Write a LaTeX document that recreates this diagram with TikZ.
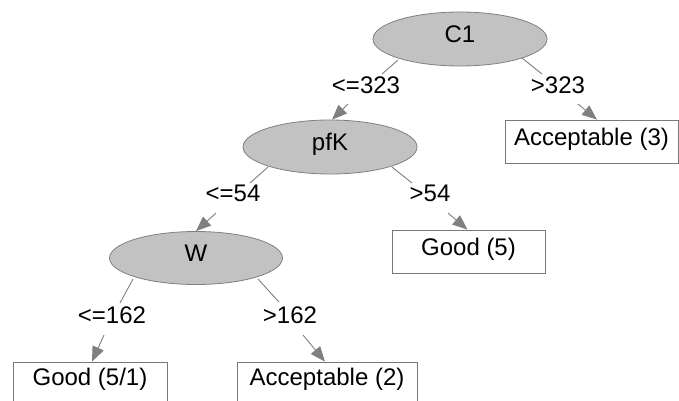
\documentclass[tikz,border=0pt]{standalone}
\usepackage{fontspec}
\setmainfont{Liberation Sans}
\usetikzlibrary{shapes.geometric,arrows.meta}
\definecolor{nodefill}{RGB}{194,194,194}
\definecolor{linegray}{RGB}{128,128,128}
\definecolor{boxgray}{RGB}{120,120,120}
\tikzset{
  txt/.style={font=\fontsize{24}{28}\selectfont, text height=0.72em, text depth=0pt, inner sep=0pt},
  split/.style={txt, ellipse, draw=linegray, fill=nodefill, line width=0.8pt},
  leaf/.style={txt, rectangle, draw=boxgray, line width=0.8pt, fill=white},
  edgelabel/.style={txt},
  edge/.style={draw=linegray, line width=0.9pt},
  arr/.style={draw=linegray, line width=0.9pt, -{Triangle[length=15pt,width=12pt,fill=linegray]}},
}
\begin{document}
\begin{tikzpicture}[x=1pt,y=-1pt]
\useasboundingbox (0,0) rectangle (679,400);
% split nodes
\node[split, minimum width=174pt, minimum height=54pt] (C1) at (460,39) {C1};
\node[split, minimum width=174pt, minimum height=54pt] (pfK) at (330,147) {pfK};
\node[split, minimum width=173pt, minimum height=53pt] (W) at (196,258) {W};
% leaves
\node[leaf, minimum width=173pt, minimum height=43pt] (Acc3) at (591.5,141.5) {Acceptable (3)};
\node[leaf, minimum width=153pt, minimum height=43pt] (Good5) at (468.5,251.5) {Good (5)};
\node[leaf, minimum width=154pt, minimum height=40pt] (Good51) at (90,382) {Good (5/1)};
\node[leaf, minimum width=180pt, minimum height=40pt] (Acc2) at (327,382) {Acceptable (2)};
% edge labels
\node[edgelabel] (l1) at (366,90) {<=323};
\node[edgelabel] (l2) at (558,90) {>323};
\node[edgelabel] (l3) at (233,198) {<=54};
\node[edgelabel] (l4) at (430,198) {>54};
\node[edgelabel] (l5) at (112,320) {<=162};
\node[edgelabel] (l6) at (290,320) {>162};
% connector coordinates
\coordinate (a1) at (398,60);  \coordinate (b1) at (382,74);  \coordinate (c1) at (348,104);
\coordinate (a2) at (522,58);  \coordinate (b2) at (542,74);  \coordinate (c2) at (578,104);
\coordinate (a3) at (268,167); \coordinate (b3) at (250,183); \coordinate (c3) at (216,213);
\coordinate (a4) at (392,167); \coordinate (b4) at (412,183); \coordinate (c4) at (448,213);
\coordinate (a5) at (133,279); \coordinate (b5) at (120,303); \coordinate (c5) at (104,335);
\coordinate (a6) at (258,279); \coordinate (b6) at (279,302); \coordinate (c6) at (303,335);
% connectors
\draw[edge] (a1) -- (b1); \draw[arr] (c1) -- ([xshift=2pt]pfK.north);
\draw[edge] (a2) -- (b2); \draw[arr] (c2) -- ([xshift=5.5pt]Acc3.north);
\draw[edge] (a3) -- (b3); \draw[arr] (c3) -- (W.north);
\draw[edge] (a4) -- (b4); \draw[arr] (c4) -- ([xshift=-1pt]Good5.north);
\draw[edge] (a5) -- (b5); \draw[arr] (c5) -- ([xshift=2pt]Good51.north);
\draw[edge] (a6) -- (b6); \draw[arr] (c6) -- ([xshift=-2pt]Acc2.north);
\end{tikzpicture}
\end{document}
